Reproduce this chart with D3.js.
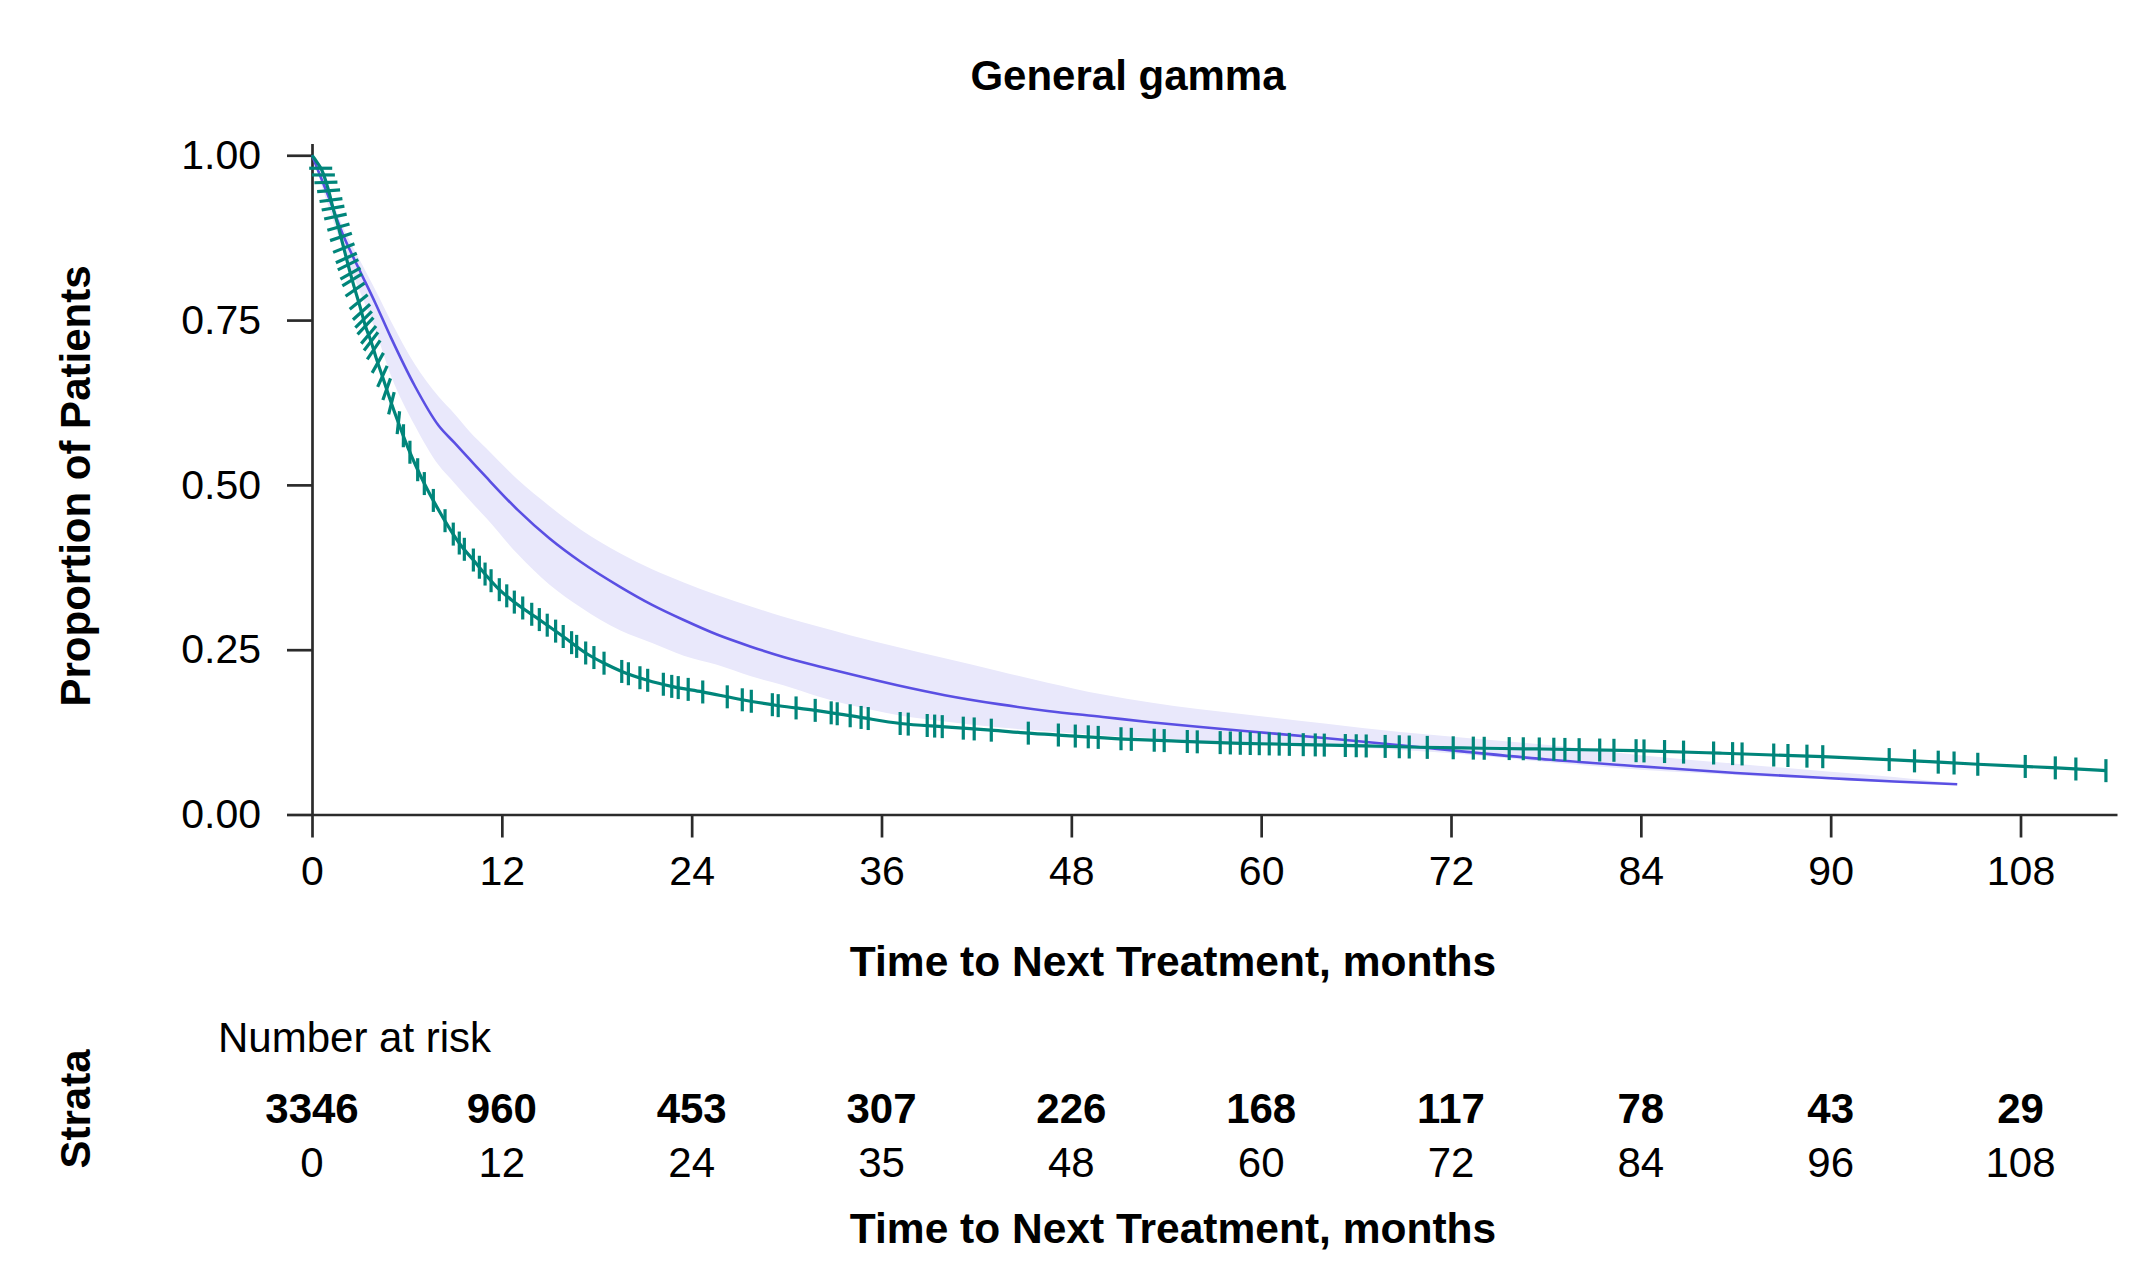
<!DOCTYPE html>
<html>
<head>
<meta charset="utf-8">
<script src="https://cdn.jsdelivr.net/npm/d3@7"></script>
<style>
  body { margin: 0; background: #fff; }
  text { font-family: "Liberation Sans", Arial, sans-serif; }
</style>
</head>
<body>
<div id="chart"></div>
<script>
// Kaplan-Meier curve (observed)
var kmTimes = [0, 0.3, 0.61, 1.03, 1.35, 1.66, 1.98, 2.3, 2.61, 3.03, 3.35, 3.77, 4.09, 4.5, 4.93, 5.45, 6.09, 6.62, 7.1, 7.88, 8.8, 9.36, 10.2, 11.0, 11.84, 12.8, 14.41, 15.88, 17.3, 18.5, 19.58, 21.15, 22.8, 24.67, 27.2, 29.5, 31.8, 34.5, 37.2, 40, 42.9, 45.5, 48.25, 51.8, 55, 58.7, 62.5, 66.6, 70, 74, 77.6, 83.7, 89, 95.5, 100, 105.3, 110, 113.4];
var kmSurv = [1.0, 0.99, 0.978, 0.948, 0.918, 0.892, 0.862, 0.832, 0.805, 0.771, 0.743, 0.715, 0.69, 0.661, 0.63, 0.595, 0.555, 0.526, 0.502, 0.467, 0.43, 0.41, 0.386, 0.363, 0.341, 0.322, 0.295, 0.27, 0.245, 0.229, 0.217, 0.204, 0.194, 0.186, 0.174, 0.165, 0.158, 0.148, 0.138, 0.133, 0.128, 0.123, 0.119, 0.114, 0.111, 0.108, 0.106, 0.104, 0.102, 0.1005, 0.0994, 0.0968, 0.093, 0.0877, 0.083, 0.0762, 0.071, 0.0665];

// censored observations
var censorTimes = [0.55, 0.72, 0.88, 1.05, 1.2, 1.33, 1.48, 1.67, 1.83, 2.01, 2.17, 2.28, 2.43, 2.54, 2.72, 2.95, 3.13, 3.26, 3.38, 3.58, 3.73, 3.9, 4.16, 4.45, 4.72, 5.02, 5.46, 5.78, 6.19, 6.68,
  7.1, 7.67, 8.41, 8.93, 9.31, 9.63, 10.2, 10.58, 10.94, 11.32, 11.84, 12.31, 12.79, 13.32, 13.89, 14.37, 14.87, 15.4, 15.88, 16.41, 16.73, 17.3, 17.82, 18.46, 19.58, 20.0, 20.73, 21.22, 22.21, 22.74, 23.15, 23.78, 24.7, 26.25, 27.2, 27.77, 29.1, 29.47, 30.6, 31.81, 32.82, 33.2, 34.02, 34.71, 35.16, 37.18, 37.69, 38.89, 39.36, 39.84, 41.17, 41.86, 42.94, 45.28, 47.18, 48.25, 49.07, 49.7, 51.14, 51.79, 53.24, 53.87, 55.33, 55.96, 57.41, 58.05, 58.68, 59.31, 59.88, 60.51, 61.14, 61.78, 62.66, 63.42, 63.99, 65.32, 66.01, 66.64, 67.84, 68.73, 69.36, 70.5, 72.14, 73.41, 74.1, 75.68, 76.57, 77.58, 78.5, 79.2, 80.1, 81.4, 82.3, 83.7, 84.2, 85.5, 86.7, 88.6, 89.8, 90.4, 92.4, 93.3, 94.5, 95.5, 99.7, 101.3, 102.8, 103.8, 105.3, 108.3, 110.2, 111.5, 113.4];

// General gamma fit with confidence band
var fitTimes = [0, 1, 2, 3, 4, 5, 6.5, 8, 9, 10, 11, 13, 15, 17, 19.5, 21.5, 23.5, 25.6, 27.7, 29.8, 32, 34, 37, 40, 43.5, 46.5, 50, 53, 56, 59.3, 64, 68.8, 73, 78.3, 84, 90, 96, 100, 104];
var fitSurv = [1.0, 0.94, 0.877, 0.826, 0.776, 0.723, 0.65, 0.59, 0.564, 0.538, 0.512, 0.462, 0.419, 0.383, 0.345, 0.318, 0.295, 0.273, 0.255, 0.239, 0.225, 0.213, 0.196, 0.181, 0.167, 0.157, 0.148, 0.14, 0.133, 0.126, 0.116, 0.105, 0.095, 0.083, 0.073, 0.063, 0.055, 0.05, 0.046];
var fitUpper = [1.0, 0.946, 0.889, 0.842, 0.796, 0.748, 0.683, 0.634, 0.608, 0.58, 0.556, 0.508, 0.468, 0.432, 0.396, 0.372, 0.352, 0.333, 0.316, 0.3, 0.285, 0.272, 0.254, 0.237, 0.217, 0.2, 0.182, 0.17, 0.16, 0.151, 0.138, 0.125, 0.116, 0.105, 0.09, 0.077, 0.065, 0.057, 0.047];
var fitLower = [1.0, 0.925, 0.855, 0.795, 0.735, 0.665, 0.59, 0.53, 0.503, 0.476, 0.45, 0.395, 0.349, 0.314, 0.279, 0.26, 0.241, 0.227, 0.21, 0.196, 0.179, 0.166, 0.151, 0.141, 0.132, 0.126, 0.12, 0.116, 0.112, 0.108, 0.103, 0.098, 0.091, 0.079, 0.068, 0.06, 0.053, 0.049, 0.046];

// Axis ticks
var xTicks = [0, 12, 24, 36, 48, 60, 72, 84, 96, 108];
var xTickLabels = ["0", "12", "24", "36", "48", "60", "72", "84", "90", "108"];
var yTicks = [0, 0.25, 0.5, 0.75, 1];

// Number at risk table
var riskCounts = [3346, 960, 453, 307, 226, 168, 117, 78, 43, 29];
var riskLabels = ["0", "12", "24", "35", "48", "60", "72", "84", "96", "108"];

var svgWidth = 2152;
var svgHeight = 1261;

var svg = d3.select("#chart")
  .append("svg")
  .attr("width", svgWidth)
  .attr("height", svgHeight);

var xScale = d3.scaleLinear()
  .domain([0, 114.1])
  .range([312, 2117]);

var yScale = d3.scaleLinear()
  .domain([0, 1.018])
  .range([814.5, 143.4]);

var green = "#00857a";
var blue = "#5a4fe3";

// Axes
var bottomAxis = d3.axisBottom(xScale)
  .tickValues(xTicks)
  .tickFormat((d, i) => xTickLabels[i])
  .tickSizeInner(23)
  .tickSizeOuter(0)
  .tickPadding(18);

var leftAxis = d3.axisLeft(yScale)
  .tickValues(yTicks)
  .tickFormat(d3.format(".2f"))
  .tickSizeInner(25)
  .tickSizeOuter(0)
  .tickPadding(26);

var xAxisG = svg.append("g")
  .attr("transform", `translate(0, ${yScale(0)})`)
  .call(bottomAxis);

var yAxisG = svg.append("g")
  .attr("transform", `translate(${xScale(0)}, 0)`)
  .call(leftAxis);

[xAxisG, yAxisG].forEach(function(g) {
  g.select(".domain").attr("stroke", "#2b2b2b").attr("stroke-width", 2.7);
  g.selectAll(".tick line").attr("stroke", "#2b2b2b").attr("stroke-width", 2.7);
  g.selectAll(".tick text")
    .attr("fill", "#000")
    .style("font-size", "41px")
    .style("font-family", "'Liberation Sans', Arial, sans-serif");
});

// Confidence band
var band = d3.area()
  .x((d, i) => xScale(fitTimes[i]))
  .y0((d, i) => yScale(fitLower[i]))
  .y1((d, i) => yScale(fitUpper[i]))
  .curve(d3.curveMonotoneX);

svg.append("path")
  .datum(fitTimes)
  .attr("d", band)
  .attr("fill", "#e9e8fb");

// Fitted curve
var fitLine = d3.line()
  .x((d, i) => xScale(fitTimes[i]))
  .y((d, i) => yScale(fitSurv[i]))
  .curve(d3.curveMonotoneX);

svg.append("path")
  .datum(fitTimes)
  .attr("d", fitLine)
  .attr("fill", "none")
  .attr("stroke", blue)
  .attr("stroke-width", 2.6);

// KM curve
var kmLine = d3.line()
  .x((d, i) => xScale(kmTimes[i]))
  .y((d, i) => yScale(kmSurv[i]))
  .curve(d3.curveMonotoneX);

svg.append("path")
  .datum(kmTimes)
  .attr("d", kmLine)
  .attr("fill", "none")
  .attr("stroke", green)
  .attr("stroke-width", 3.2);

// Censor marks
var kmAt = d3.scaleLinear().domain(kmTimes).range(kmSurv);
var markLen = 23;

svg.append("g")
  .selectAll("line")
  .data(censorTimes)
  .enter()
  .append("line")
  .each(function(t) {
    var cx = xScale(t), cy = yScale(kmAt(t));
    var a = Math.PI / 2 * Math.max(0, Math.min(1, (t - 0.8) / 5));
    var dx = Math.cos(a) * markLen / 2, dy = Math.sin(a) * markLen / 2;
    d3.select(this)
      .attr("x1", cx - dx).attr("y1", cy + dy)
      .attr("x2", cx + dx).attr("y2", cy - dy);
  })
  .attr("stroke", green)
  .attr("stroke-width", 3.2);

// Titles
svg.append("text")
  .attr("x", 1128)
  .attr("y", 90)
  .attr("text-anchor", "middle")
  .style("font-size", "42px")
  .style("font-weight", "bold")
  .text("General gamma");

svg.append("text")
  .attr("transform", "translate(90, 486) rotate(-90)")
  .attr("text-anchor", "middle")
  .style("font-size", "42px")
  .style("font-weight", "bold")
  .text("Proportion of Patients");

svg.append("text")
  .attr("x", 1173)
  .attr("y", 976)
  .attr("text-anchor", "middle")
  .style("font-size", "42.5px")
  .style("font-weight", "bold")
  .text("Time to Next Treatment, months");

// Risk table
svg.append("text")
  .attr("x", 218)
  .attr("y", 1052)
  .style("font-size", "42px")
  .text("Number at risk");

svg.append("text")
  .attr("transform", "translate(90, 1109) rotate(-90)")
  .attr("text-anchor", "middle")
  .style("font-size", "42px")
  .style("font-weight", "bold")
  .text("Strata");

svg.append("g")
  .selectAll("text")
  .data(riskCounts)
  .enter()
  .append("text")
  .attr("x", (d, i) => xScale(xTicks[i]))
  .attr("y", 1123)
  .attr("text-anchor", "middle")
  .style("font-size", "42px")
  .style("font-weight", "bold")
  .text(d => d);

svg.append("g")
  .selectAll("text")
  .data(riskLabels)
  .enter()
  .append("text")
  .attr("x", (d, i) => xScale(xTicks[i]))
  .attr("y", 1177)
  .attr("text-anchor", "middle")
  .style("font-size", "42px")
  .text(d => d);

svg.append("text")
  .attr("x", 1173)
  .attr("y", 1243)
  .attr("text-anchor", "middle")
  .style("font-size", "42.5px")
  .style("font-weight", "bold")
  .text("Time to Next Treatment, months");
</script>
</body>
</html>
